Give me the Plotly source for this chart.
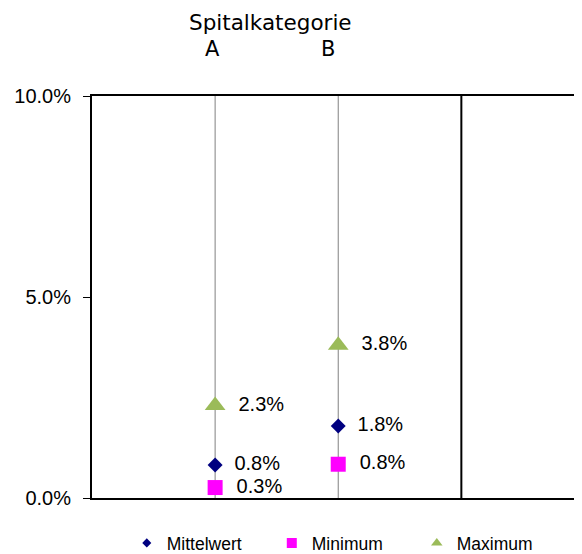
import plotly.graph_objects as go

categories = ["A", "B"]
cat_idx = [0, 1]
mittelwert = [0.82, 1.79]
minimum = [0.26, 0.84]
maximum = [2.3, 3.8]
y_ticks = [0, 5, 10]
y_ticktext = [f"{v:.1f}%" for v in y_ticks]
title_text = "Spitalkategorie"

fig = go.Figure()

label_font = dict(family="Liberation Sans, Arial", size=20, color="black")
pad = "\u00a0\u00a0"

fig.add_trace(go.Scatter(x=cat_idx, y=mittelwert, mode="markers+text", name="Mittelwert",
                         marker=dict(symbol="diamond", size=11.5, color="#000080"),
                         texttemplate=pad + "%{y:.1f}%", textposition="middle right",
                         textfont=label_font, showlegend=False, cliponaxis=False))
fig.add_trace(go.Scatter(x=cat_idx, y=minimum, mode="markers+text", name="Minimum",
                         marker=dict(symbol="square", size=15, color="#FF00FF"),
                         texttemplate=pad + "%{y:.1f}%", textposition="middle right",
                         textfont=label_font, showlegend=False, cliponaxis=False))
fig.add_trace(go.Scatter(x=cat_idx, y=maximum, mode="markers+text", name="Maximum",
                         marker=dict(symbol="triangle-up", size=18, color="#9BBB59"),
                         texttemplate=pad + "%{y:.1f}%", textposition="middle right",
                         textfont=label_font, showlegend=False, cliponaxis=False))

# legend-only entries with small markers
for nm, sym, sz, col in [("Mittelwert", "diamond", 7, "#000080"),
                         ("Minimum", "square", 10, "#FF00FF"),
                         ("Maximum", "triangle-up", 10, "#9BBB59")]:
    fig.add_trace(go.Scatter(x=[None], y=[None], mode="markers", name=nm,
                             marker=dict(symbol=sym, size=sz, color=col)))

shapes = []
for i in cat_idx:
    shapes.append(dict(type="line", xref="x", yref="paper", x0=i, x1=i, y0=0, y1=1,
                       line=dict(color="#808080", width=1), layer="below"))
shapes.append(dict(type="line", xref="x", yref="paper", x0=len(categories), x1=len(categories),
                   y0=0, y1=1, line=dict(color="black", width=2), layer="below"))
shapes.append(dict(type="line", xref="paper", yref="paper", x0=0.998, x1=0.998, y0=0, y1=1,
                   line=dict(color="#A0A0A0", width=1)))

annotations = [dict(text=title_text, xref="paper", yref="paper", x=(270 - 92) / 490, y=1,
                    yshift=74, showarrow=False, font=dict(family="DejaVu Sans", size=21.5, color="black"),
                    xanchor="center", yanchor="middle")]
for i, c, sh in zip(cat_idx, categories, [-3, -10]):
    annotations.append(dict(text=c, xref="x", yref="paper", x=i, y=1, yshift=47, xshift=sh,
                            showarrow=False, font=dict(family="DejaVu Sans", size=21, color="black"),
                            xanchor="center", yanchor="middle"))

# page body has an 8px margin: the figure is offset accordingly
fig.update_layout(
    template=None,
    width=574, height=546,
    margin=dict(l=84, r=0, t=88, b=56, autoexpand=False),
    plot_bgcolor="white", paper_bgcolor="white",
    shapes=shapes, annotations=annotations,
    xaxis=dict(range=[-1, 2.98], showgrid=False, zeroline=False, showticklabels=False,
               showline=True, linecolor="black", linewidth=2, mirror=True, ticks="",
               automargin=False),
    yaxis=dict(range=[0, 10], tickvals=y_ticks, ticktext=y_ticktext,
               showgrid=False, zeroline=False, showline=True, linecolor="black", linewidth=2,
               ticks="outside", ticklen=7, tickwidth=1, tickcolor="black", automargin=False,
               ticklabelstandoff=8,
               tickfont=dict(family="Liberation Sans, Arial", size=20, color="black")),
    legend=dict(orientation="h", x=0.071, xanchor="left", y=-0.112, yanchor="middle",
                entrywidth=100, entrywidthmode="pixels", itemwidth=30,
                font=dict(family="Liberation Sans, Arial", size=17.5, color="black")),
    showlegend=True,
)

fig.write_html("out.html")
